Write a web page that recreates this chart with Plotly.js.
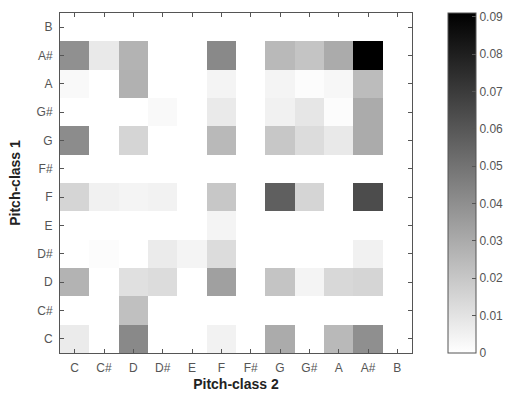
<!DOCTYPE html>
<html>
<head>
<meta charset="utf-8">
<script src="https://cdn.plot.ly/plotly-3.0.1.min.js"></script>
<style>html,body{margin:0;padding:0;background:#fff;}#chart{width:510px;height:396px;}</style>
</head>
<body>
<div id="chart"></div>
<script>
// Pitch-class transition probabilities (row: pitch-class 1, column: pitch-class 2)
const pitchClasses = ['C', 'C#', 'D', 'D#', 'E', 'F', 'F#', 'G', 'G#', 'A', 'A#', 'B'];

const rowC  = [0.007, 0, 0.042, 0, 0, 0.0045, 0, 0.030, 0, 0.025, 0.040, 0];
const rowCs = [0, 0, 0.0225, 0, 0, 0, 0, 0, 0, 0, 0, 0];
const rowD  = [0.027, 0, 0.011, 0.0125, 0, 0.034, 0, 0.021, 0.004, 0.014, 0.015, 0];
const rowDs = [0, 0.001, 0, 0.007, 0.004, 0.0125, 0, 0, 0, 0, 0.005, 0];
const rowE  = [0, 0, 0, 0, 0, 0.004, 0, 0, 0, 0, 0, 0];
const rowF  = [0.015, 0.005, 0.004, 0.0045, 0, 0.020, 0, 0.057, 0.015, 0, 0.064, 0];
const rowFs = [0, 0, 0, 0, 0, 0, 0, 0, 0, 0, 0, 0];
const rowG  = [0.041, 0, 0.015, 0, 0, 0.025, 0, 0.020, 0.0125, 0.008, 0.030, 0];
const rowGs = [0, 0, 0, 0.002, 0, 0.0075, 0, 0.005, 0.009, 0.001, 0.030, 0];
const rowA  = [0.002, 0, 0.028, 0, 0, 0.004, 0, 0.004, 0.001, 0.003, 0.024, 0];
const rowAs = [0.0396, 0.008, 0.027, 0, 0, 0.042, 0, 0.025, 0.021, 0.030, 0.091, 0];
const rowB  = [0, 0, 0, 0, 0, 0, 0, 0, 0, 0, 0, 0];

const colorTicks = [0, 0.01, 0.02, 0.03, 0.04, 0.05, 0.06, 0.07, 0.08, 0.09];

const z = [rowC, rowCs, rowD, rowDs, rowE, rowF, rowFs, rowG, rowGs, rowA, rowAs, rowB];

const labelFont = {family: 'Liberation Sans, Arial, sans-serif', size: 12, color: '#555'};
const titleFont = {family: 'Liberation Sans, Arial, sans-serif', size: 14, color: '#222', weight: 'bold'};

const axisCommon = {
  type: 'category',
  showgrid: false,
  zeroline: false,
  showline: true,
  linecolor: '#555',
  linewidth: 1,
  mirror: 'ticks',
  ticks: 'inside',
  ticklen: 4,
  tickcolor: '#555',
  tickfont: labelFont
};

const trace = {
  type: 'heatmap',
  x: pitchClasses,
  y: pitchClasses,
  z: z,
  zmin: 0,
  zmax: 0.091,
  colorscale: [[0, 'rgb(255,255,255)'], [1, 'rgb(0,0,0)']],
  colorbar: {
    xref: 'container', x: 0.878, xanchor: 'left', xpad: 0,
    y: 0.5, yanchor: 'middle', ypad: 0,
    len: 1, lenmode: 'fraction',
    thickness: 28, thicknessmode: 'pixels',
    outlinewidth: 1, outlinecolor: '#555',
    tickvals: colorTicks,
    ticktext: colorTicks.map(v => v === 0 ? '0' : v.toFixed(2)),
    ticks: 'inside', ticklen: 4, tickcolor: '#555',
    tickfont: labelFont
  }
};

const layout = {
  width: 510, height: 396,
  margin: {l: 60, r: 98, t: 13, b: 43, autoexpand: false},
  paper_bgcolor: '#fff', plot_bgcolor: '#fff',
  xaxis: Object.assign({}, axisCommon, {
    ticklabelstandoff: 4,
    title: {text: 'Pitch-class 2', standoff: 4, font: titleFont}
  }),
  yaxis: Object.assign({}, axisCommon, {
    ticklabelstandoff: 4,
    title: {text: 'Pitch-class 1', standoff: 12, font: titleFont}
  }),
  showlegend: false
};

Plotly.newPlot('chart', [trace], layout, {displayModeBar: false, staticPlot: true});
</script>
</body>
</html>
